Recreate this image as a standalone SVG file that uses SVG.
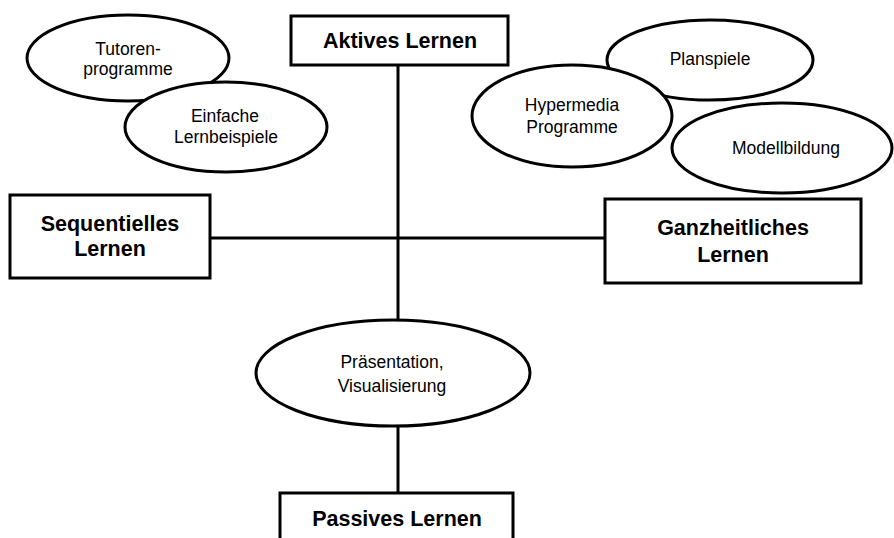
<svg xmlns="http://www.w3.org/2000/svg" width="894" height="538" viewBox="0 0 894 538">
<style>
.box{fill:#fff;stroke:#000;stroke-width:3}
.ell{fill:#fff;stroke:#000;stroke-width:3}
.con{stroke:#000;stroke-width:3;fill:none}
.b{font-family:"Liberation Sans",Arial,sans-serif;font-weight:bold;font-size:21.5px;text-anchor:middle;fill:#000}
.n{font-family:"Liberation Sans",Arial,sans-serif;font-size:17.5px;text-anchor:middle;fill:#000}
</style>
<rect width="894" height="538" fill="#fff"/>
<g id="connectors">
<line class="con" x1="398" y1="65" x2="398" y2="493"/>
<line class="con" x1="210" y1="238" x2="605" y2="238"/>
</g>
<g id="aktives">
<rect class="box" x="291" y="16" width="217" height="49"/>
<text class="b" x="400" y="48">Aktives Lernen</text>
</g>
<g id="sequentielles">
<rect class="box" x="10" y="195" width="200" height="83"/>
<text class="b" x="110" y="231">Sequentielles</text>
<text class="b" x="110" y="256">Lernen</text>
</g>
<g id="ganzheitliches">
<rect class="box" x="605" y="199" width="256" height="84"/>
<text class="b" x="733" y="235">Ganzheitliches</text>
<text class="b" x="733" y="262">Lernen</text>
</g>
<g id="passives">
<rect class="box" x="280" y="493" width="233" height="60"/>
<text class="b" x="397" y="526">Passives Lernen</text>
</g>
<g id="tutoren">
<ellipse class="ell" cx="128" cy="58" rx="101" ry="43"/>
<text class="n" x="128" y="55">Tutoren-</text>
<text class="n" x="128" y="75">programme</text>
</g>
<g id="einfache">
<ellipse class="ell" cx="226" cy="127" rx="101" ry="45"/>
<text class="n" x="225" y="122">Einfache</text>
<text class="n" x="226" y="143">Lernbeispiele</text>
</g>
<g id="planspiele">
<ellipse class="ell" cx="710" cy="60" rx="103" ry="40"/>
<text class="n" x="710" y="65">Planspiele</text>
</g>
<g id="hypermedia">
<ellipse class="ell" cx="572" cy="116" rx="100" ry="51"/>
<text class="n" x="572" y="111">Hypermedia</text>
<text class="n" x="572" y="133">Programme</text>
</g>
<g id="modellbildung">
<ellipse class="ell" cx="782" cy="148" rx="110" ry="45"/>
<text class="n" x="786" y="154">Modellbildung</text>
</g>
<g id="praesentation">
<ellipse class="ell" cx="393" cy="373" rx="137" ry="53"/>
<text class="n" x="392" y="368">Präsentation,</text>
<text class="n" x="392" y="392">Visualisierung</text>
</g>
</svg>
